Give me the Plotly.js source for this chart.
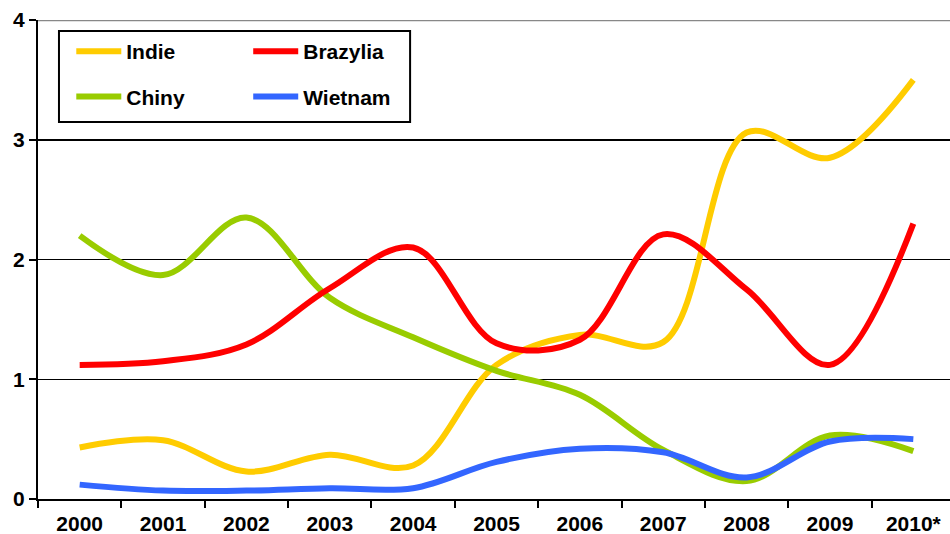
<!DOCTYPE html>
<html>
<head>
<meta charset="utf-8">
<script src="https://cdn.plot.ly/plotly-3.0.1.min.js"></script>
<style>html,body{margin:0;padding:0;background:#fff;}#chart{width:950px;height:534px;}</style>
</head>
<body>
<div id="chart"></div>
<script>
var years = ["2000","2001","2002","2003","2004","2005","2006","2007","2008","2009","2010*"];
var indie    = [0.43,0.49,0.23,0.37,0.28,1.12,1.37,1.31,3.06,2.85,3.50];
var brazylia = [1.12,1.15,1.29,1.76,2.10,1.30,1.33,2.21,1.75,1.12,2.30];
var chiny    = [2.20,1.87,2.35,1.68,1.35,1.07,0.87,0.41,0.15,0.53,0.40];
var wietnam  = [0.12,0.07,0.07,0.09,0.09,0.31,0.42,0.39,0.18,0.48,0.50];

var FONT = 'Arial, "Liberation Sans", sans-serif';
function tr(name, y, color, legend, group) {
  return {x: years, y: y, name: name, type: 'scatter', mode: 'lines',
    line: {color: color, width: 6, shape: 'spline', smoothing: 1},
    legend: legend, legendgroup: group};
}
var data = [
  tr('Indie', indie, '#FFCC00', 'legend', 'a'),
  tr('Chiny', chiny, '#99CC00', 'legend', 'b'),
  tr('Brazylia', brazylia, '#FF0000', 'legend2', 'c'),
  tr('Wietnam', wietnam, '#3366FF', 'legend2', 'd')
];
var legBase = {orientation: 'v', bgcolor: 'rgba(0,0,0,0)', borderwidth: 0,
  font: {family: FONT, size: 21, color: '#000', weight: 'bold'},
  itemwidth: 45, tracegroupgap: 15, traceorder: 'grouped',
  xanchor: 'left', yanchor: 'top', itemclick: false, itemdoubleclick: false};
var layout = {
  width: 950, height: 534,
  margin: {l: 38, r: 0, t: 20, b: 35},
  paper_bgcolor: '#fff', plot_bgcolor: '#fff',
  showlegend: true,
  legend: Object.assign({}, legBase, {x: 0.0365, y: 0.977}),
  legend2: Object.assign({}, legBase, {x: 0.2305, y: 0.977}),
  xaxis: {type: 'category', range: [-0.5, 10.44], tickson: 'boundaries',
    ticks: 'outside', ticklen: 7, tickwidth: 2, tickcolor: '#000',
    showline: true, linecolor: '#000', linewidth: 2, showgrid: false,
    ticklabelstandoff: 5,
    tickfont: {family: FONT, size: 21, color: '#000', weight: 'bold'}},
  yaxis: {range: [0, 4], dtick: 1, tick0: 0, ticks: 'outside', ticklen: 7,
    tickwidth: 2, tickcolor: '#000', showline: true, linecolor: '#000', linewidth: 2,
    showgrid: true, gridcolor: '#000', gridwidth: 1.5, zeroline: false,
    tickfont: {family: FONT, size: 21, color: '#000', weight: 'bold'}},
  shapes: [
    {type: 'line', xref: 'paper', yref: 'y', x0: 0, x1: 1, y0: 4, y1: 4,
     line: {color: '#888', width: 2.5}, layer: 'above'},
    {type: 'rect', xref: 'paper', yref: 'paper', x0: 0.023, x1: 0.408, y0: 0.787, y1: 0.977,
     line: {color: '#000', width: 2}, fillcolor: 'rgba(0,0,0,0)', layer: 'above'}
  ]
};
Plotly.newPlot('chart', data, layout, {staticPlot: true, displayModeBar: false});
</script>
</body>
</html>
